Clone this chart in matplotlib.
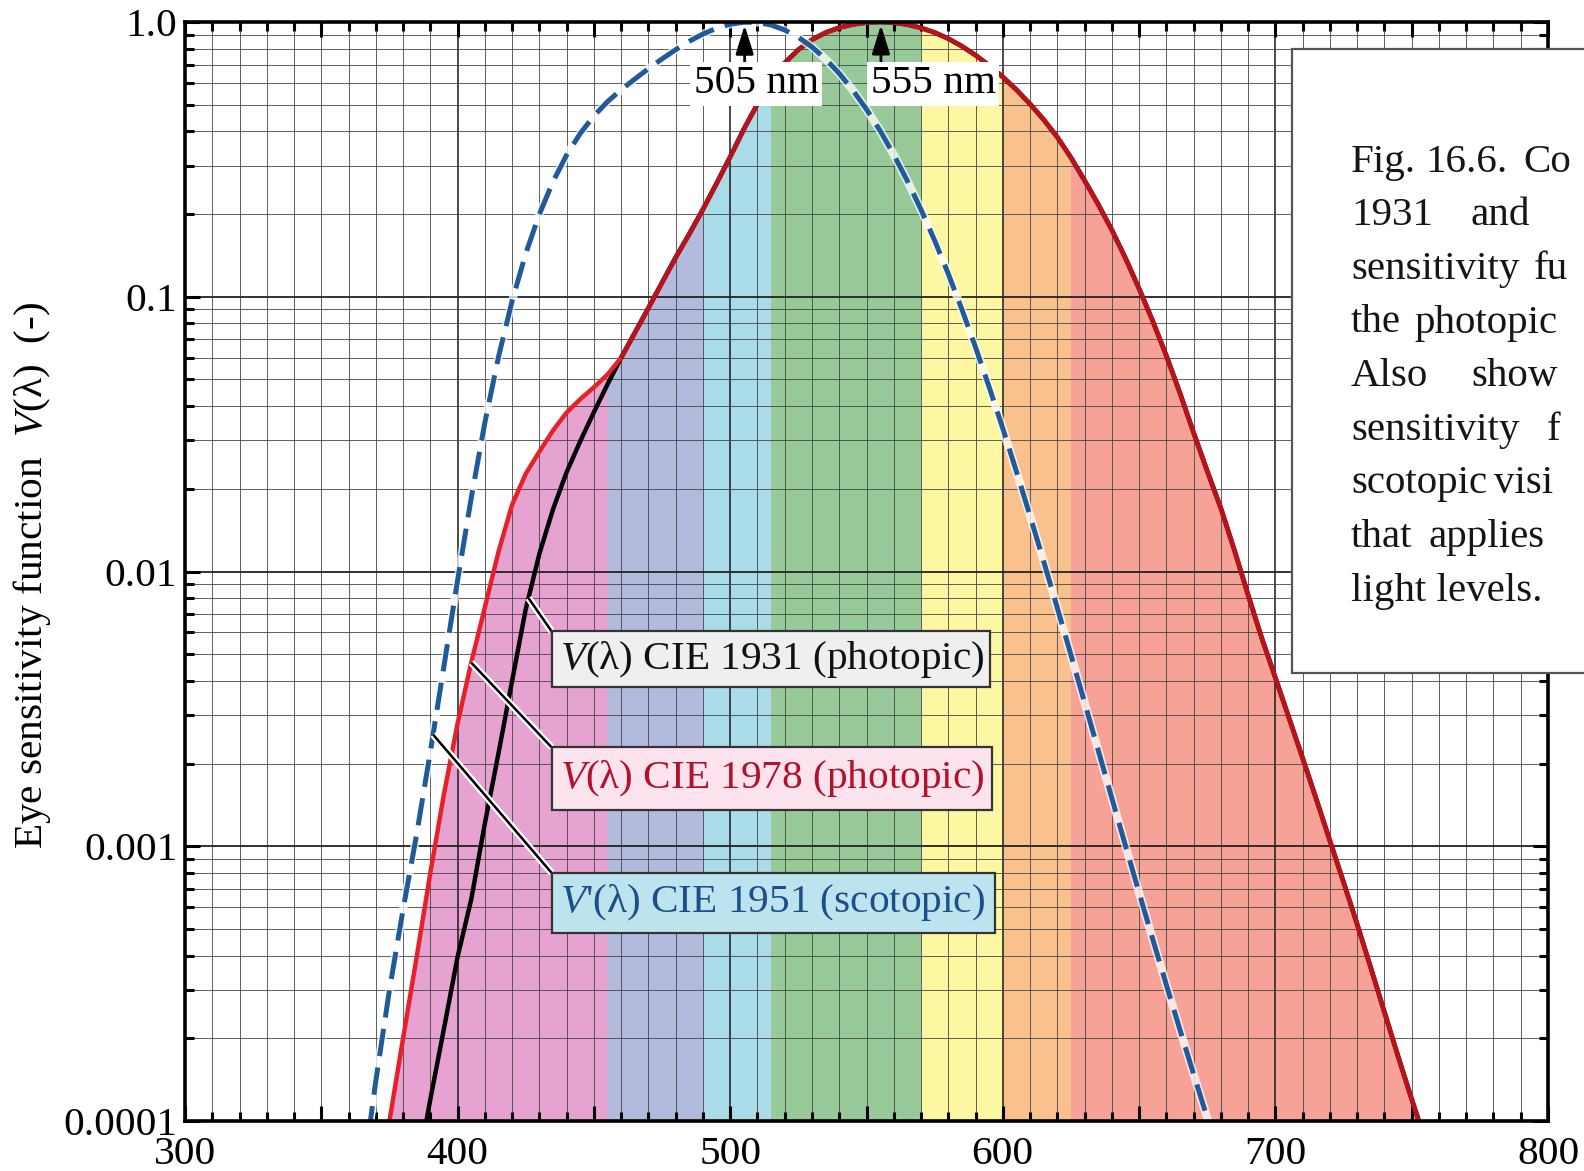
#!/usr/bin/env python3
"""Eye sensitivity functions: CIE 1931 / 1978 photopic and CIE 1951 scotopic."""

import numpy as np
import matplotlib
matplotlib.use('Agg')
import matplotlib.pyplot as plt
import matplotlib.patheffects as pe
from matplotlib.patches import Rectangle
from matplotlib.ticker import MultipleLocator, LogLocator, FuncFormatter, NullFormatter

plt.rcParams['font.family'] = ['Liberation Serif', 'DejaVu Serif']
plt.rcParams['mathtext.fontset'] = 'custom'
plt.rcParams['mathtext.rm'] = 'Liberation Serif'
plt.rcParams['mathtext.it'] = 'Liberation Serif:italic'

# CIE 1931 photopic V(lambda), 380-760 nm in 5 nm steps
wl_1931 = np.arange(380, 765, 5)
v_1931 = np.array([
    0.000039, 0.000064, 0.00012, 0.000217, 0.000396, 0.00064, 0.00121, 0.00218,
    0.004, 0.0073, 0.0116, 0.01684, 0.023, 0.0298, 0.038, 0.048,
    0.06, 0.0739, 0.09098, 0.1126, 0.13902, 0.1693, 0.20802, 0.2586,
    0.323, 0.4073, 0.503, 0.6082, 0.71, 0.7932, 0.862, 0.91485,
    0.954, 0.9803, 0.99495, 1.0, 0.995, 0.9786, 0.952, 0.9154,
    0.87, 0.8163, 0.757, 0.6949, 0.631, 0.5668, 0.503, 0.4412,
    0.381, 0.321, 0.265, 0.217, 0.175, 0.1382, 0.107, 0.0816,
    0.061, 0.04458, 0.032, 0.0232, 0.017, 0.01192, 0.00821, 0.005723,
    0.004102, 0.002929, 0.002091, 0.001484, 0.001047, 0.00074, 0.00052, 0.000361,
    0.000249, 0.000172, 0.00012, 0.0000848, 0.00006,
])

# CIE 1978 photopic: corrected blue end (370-460 nm), same as 1931 beyond
wl_1978_blue = np.arange(370, 465, 5)
v_1978_blue = np.array([
    0.00004, 0.0001, 0.0002, 0.000396, 0.0008, 0.00155, 0.0028, 0.00466,
    0.0074, 0.0118, 0.0175, 0.0227, 0.0273, 0.0326, 0.0379, 0.0424,
    0.0468, 0.0521, 0.06,
])
wl_1978 = np.concatenate([wl_1978_blue, wl_1931[wl_1931 > 460]])
v_1978 = np.concatenate([v_1978_blue, v_1931[wl_1931 > 460]])

# CIE 1951 scotopic V'(lambda)
wl_1951 = np.arange(365, 685, 5)
v_1951 = np.array([
    0.00006, 0.00014, 0.0003, 0.000589, 0.001108, 0.002209, 0.00453, 0.00929,
    0.01852, 0.03484, 0.0604, 0.0966, 0.1436, 0.1998, 0.2625, 0.3281,
    0.3931, 0.455, 0.513, 0.567, 0.62, 0.676, 0.734, 0.793,
    0.851, 0.904, 0.949, 0.982, 0.998, 0.997, 0.975, 0.935,
    0.88, 0.811, 0.733, 0.65, 0.564, 0.481, 0.402, 0.3288,
    0.2639, 0.2076, 0.1602, 0.1212, 0.0899, 0.0655, 0.0469, 0.03315,
    0.02312, 0.01593, 0.01088, 0.00737, 0.00497, 0.003335, 0.002235, 0.001497,
    0.001005, 0.000677, 0.000459, 0.0003129, 0.0002146, 0.000148, 0.0001026, 0.0000715,
])

# spectral colour bands under the photopic curve (nm)
band_edges = [370, 455, 490, 515, 570, 600, 625, 760]
band_colors = ['#e6a2d0', '#b2bbdd', '#a9dbe9', '#98c998', '#fdf7a2', '#f9c18e', '#f7a297']

curve_labels = ['$V$(λ) CIE 1931 (photopic)',
                '$V$(λ) CIE 1978 (photopic)',
                "$V$'(λ) CIE 1951 (scotopic)"]

FS = 29.7
RED = '#e8202a'
DARK_RED = '#b5141c'
BLUE = '#1f5a9a'

fig = plt.figure(figsize=(15.84, 11.71), dpi=100)
ax = fig.add_axes([185 / 1584, 1 - 1121 / 1171, 1363 / 1584, 1099 / 1171])
ax.set_xlim(300, 800)
ax.set_yscale('log')
ax.set_ylim(1e-4, 1.0)

# colour bands
for lo, hi, col in zip(band_edges[:-1], band_edges[1:], band_colors):
    m = (wl_1978 >= lo) & (wl_1978 <= hi)
    ax.fill_between(wl_1978[m], 1e-4, v_1978[m], facecolor=col,
                    edgecolor=col, lw=0.6, zorder=1)

# grid on top of the bands
for x in range(310, 800, 10):
    major = x % 100 == 0
    ax.axvline(x, color='#1a1a1a' if major else '#444444',
               lw=1.1 if major else 0.6, zorder=1.5)
for e in range(-4, 0):
    for m in range(1, 10):
        y = m * 10.0 ** e
        if m == 1 and e == -4:
            continue
        ax.axhline(y, color='#222222' if m == 1 else '#444444',
                   lw=1.3 if m == 1 else 0.6, zorder=1.5)

# curves
ax.plot(wl_1931, v_1931, color='black', lw=3.2, zorder=3)
blue_end = wl_1978 <= 460
ax.plot(wl_1978[blue_end], v_1978[blue_end], color=RED, lw=3.2, zorder=3.2,
        solid_capstyle='butt')
ax.plot(wl_1978[wl_1978 >= 460], v_1978[wl_1978 >= 460], color=DARK_RED,
        lw=3.5, zorder=3.2, solid_capstyle='butt')
ax.plot(wl_1951, v_1951, color='white', lw=6, alpha=0.75, zorder=3.4)
ax.plot(wl_1951, v_1951, color=BLUE, lw=3.6, dashes=(5.5, 2.3), zorder=3.5)

# peak markers
for peak_wl, peak_v, text_x in [(wl_1951[np.argmax(v_1951)], v_1951.max(), 509.5),
                                (wl_1931[np.argmax(v_1931)], v_1931.max(), 574.5)]:
    ax.annotate('', xy=(peak_wl + 0.3, 0.975 * peak_v), xytext=(peak_wl + 0.3, 0.70),
                arrowprops=dict(arrowstyle='-|>,head_width=0.25,head_length=0.8',
                                color='black', lw=2.0, mutation_scale=22,
                                shrinkA=0, shrinkB=0),
                zorder=6)
    ax.text(text_x, 0.595, f'{peak_wl} nm', ha='center', va='center', fontsize=FS,
            zorder=6, bbox=dict(boxstyle='square,pad=0.08', fc='white', ec='none'))

# labelled boxes with leader lines
box_left, box_x_pad = 434.5, 3.2
boxes = [
    # tip wl, curve, top, bottom, right, face, text colour
    (426, wl_1931, v_1931, 10 ** -2.218, 10 ** -2.420, 595.4, '#efefef', '#111111'),
    (405, wl_1978, v_1978, 10 ** -2.640, 10 ** -2.869, 596.1, '#fde3ee', '#b3102a'),
    (391, wl_1951, v_1951, 10 ** -3.097, 10 ** -3.314, 597.2, '#bde3ef', '#1b4f8a'),
]
halo = [pe.withStroke(linewidth=5, foreground='white')]
for label, (tip, wl, v, top, bot, right, face, tcol) in zip(curve_labels, boxes):
    tip_v = 10 ** np.interp(tip, wl, np.log10(v))
    ax.plot([tip, box_left], [tip_v, top], color='black', lw=1.8,
            path_effects=halo, zorder=4, solid_capstyle='butt')
    ax.add_patch(Rectangle((box_left, bot), right - box_left, top - bot,
                           facecolor=face, edgecolor='#333333', lw=1.6, zorder=4.5))
    ax.text(box_left + box_x_pad, np.sqrt(top * bot), label, ha='left',
            va='center', fontsize=FS, color=tcol, zorder=5)

# ticks and spines
ax.xaxis.set_major_locator(MultipleLocator(50))
ax.xaxis.set_minor_locator(MultipleLocator(10))
ax.xaxis.set_major_formatter(FuncFormatter(lambda v, p: f'{v:.0f}' if v % 100 == 0 else ''))
ax.yaxis.set_major_locator(LogLocator(base=10, numticks=10))
ax.yaxis.set_minor_locator(LogLocator(base=10, subs=np.arange(2, 10), numticks=40))
ytick_text = {1e-4: '0.0001', 1e-3: '0.001', 1e-2: '0.01', 1e-1: '0.1', 1.0: '1.0'}
ax.yaxis.set_major_formatter(FuncFormatter(
    lambda v, p: min(ytick_text.items(), key=lambda kv: abs(np.log10(kv[0]) - np.log10(v)))[1]))
ax.yaxis.set_minor_formatter(NullFormatter())
ax.tick_params(which='both', direction='in', top=True, right=True, width=2.2,
               labelsize=FS, zorder=7)
ax.tick_params(which='major', length=11)
ax.tick_params(which='minor', length=6.5)
ax.tick_params(axis='x', pad=11)
ax.tick_params(axis='y', pad=5.5)
for s in ax.spines.values():
    s.set_linewidth(2.6)
    s.set_zorder(7)

ax.set_ylabel('Eye sensitivity function  $V$(λ)  (-)', fontsize=FS)
ax.yaxis.label.set_va('center')
ax.yaxis.set_label_coords(-0.112, 0.496)

# caption panel at the right edge, cut off by the figure border
fig.add_artist(Rectangle((1292 / 1584, 1 - 673 / 1171), 0.4, 624.5 / 1171,
                         transform=fig.transFigure, facecolor='white',
                         edgecolor='#555555', lw=1.6, zorder=10))
caption = [
    [('Fig.', 1351), ('16.6.', 1425), ('Co', 1523)],
    [('1931', 1351), ('and', 1471)],
    [('sensitivity', 1351), ('fu', 1534)],
    [('the', 1351), ('photopic', 1414)],
    [('Also', 1351), ('show', 1471)],
    [('sensitivity', 1351), ('f', 1547)],
    [('scotopic', 1351), ('visi', 1494)],
    [('that', 1351), ('applies', 1429)],
    [('light levels.', 1351)],
]
for i, words in enumerate(caption):
    base = 171.7 + 53.6 * i
    for word, px in words:
        fig.text(px / 1584, 1 - base / 1171, word, ha='left', va='baseline',
                 fontsize=29.5, color='#151515', zorder=11)

fig.savefig('out.png', dpi=100, facecolor='white')
plt.close(fig)
